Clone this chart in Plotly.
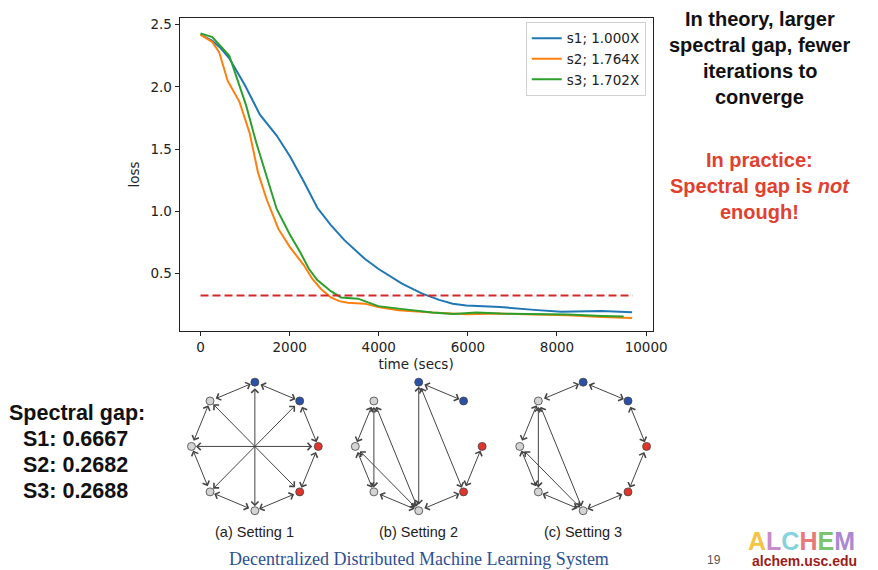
import plotly.graph_objects as go
import math

# ---------------- data ----------------
s1_t = [0, 266, 456, 646, 1003, 1329, 1709, 2013, 2317, 2621, 2925, 3229, 3685, 3988, 4520, 4976, 5356, 5660, 5964, 6724, 7484, 8091, 9003, 9686]
s1_loss = [2.42, 2.37, 2.31, 2.23, 2.01, 1.78, 1.61, 1.44, 1.24, 1.03, 0.89, 0.77, 0.62, 0.54, 0.42, 0.34, 0.29, 0.26, 0.245, 0.233, 0.21, 0.195, 0.20, 0.19]

s2_t = [0, 266, 418, 608, 874, 1102, 1292, 1481, 1747, 2013, 2317, 2507, 2697, 2925, 3115, 3305, 3685, 3988, 4444, 5204, 5964, 6724, 7484, 8243, 9003, 9686]
s2_loss = [2.42, 2.36, 2.28, 2.05, 1.88, 1.63, 1.31, 1.10, 0.86, 0.71, 0.57, 0.46, 0.38, 0.31, 0.28, 0.268, 0.26, 0.233, 0.207, 0.188, 0.175, 0.18, 0.172, 0.167, 0.153, 0.145]

s3_t = [0, 266, 646, 874, 1025, 1253, 1481, 1709, 2013, 2241, 2431, 2621, 2925, 3153, 3533, 3761, 3988, 4444, 4824, 5204, 5660, 6192, 6724, 7484, 8243, 9003, 9496]
s3_loss = [2.43, 2.40, 2.25, 2.01, 1.85, 1.55, 1.29, 1.02, 0.81, 0.67, 0.54, 0.45, 0.36, 0.31, 0.30, 0.27, 0.24, 0.22, 0.204, 0.188, 0.177, 0.188, 0.18, 0.175, 0.172, 0.16, 0.156]

series_names = ["s1; 1.000X", "s2; 1.764X", "s3; 1.702X"]
series_colors = ["#1f77b4", "#ff7f0e", "#2ca02c"]

target_t = [0, 9700]
target_loss = [0.325, 0.325]

x_ticks = [0, 2000, 4000, 6000, 8000, 10000]
x_ticktext = ["0", "2000", "4000", "6000", "8000", "10000"]
y_ticks = [0.5, 1.0, 1.5, 2.0, 2.5]

spectral_gap = {"S1": "0.6667", "S2": "0.2682", "S3": "0.2688"}

# graph topologies (8 nodes on a ring, node 0 at top, clockwise)
node_colors = ["#2b50a8", "#2b50a8", "#e0352c", "#e0352c", "#d4d4d4", "#d4d4d4", "#d4d4d4", "#d4d4d4"]
edges_1 = [(0, 1), (1, 2), (2, 3), (3, 4), (4, 5), (5, 6), (6, 7), (7, 0), (0, 4), (1, 5), (2, 6), (3, 7)]
edges_2 = [(7, 6), (7, 5), (7, 4), (6, 5), (6, 4), (5, 4), (4, 0), (4, 3), (0, 1), (0, 3), (3, 2)]
edges_3 = [(7, 0), (0, 1), (1, 2), (2, 3), (3, 4), (4, 5), (5, 6), (6, 7), (7, 5), (7, 4), (6, 4)]
graph_captions = ["(a) Setting 1", "(b) Setting 2", "(c) Setting 3"]

W, H = 878, 570
def px(x): return x / W
def py(y): return 1 - y / H

fig = go.Figure()

for t, l, n, c in zip([s1_t, s2_t, s3_t], [s1_loss, s2_loss, s3_loss], series_names, series_colors):
    fig.add_trace(go.Scatter(x=t, y=l, mode="lines", name=n, line=dict(color=c, width=2),
                             xaxis="x", yaxis="y"))
fig.add_trace(go.Scatter(x=target_t, y=target_loss, mode="lines", showlegend=False,
                         line=dict(color="#d62728", width=2, dash="8px,4px"), xaxis="x", yaxis="y"))

tickfont = dict(family="DejaVu Sans", size=13.5, color="#222")
layout = dict(
    width=W, height=H, margin=dict(l=0, r=0, t=0, b=0), autosize=False,
    paper_bgcolor="white", plot_bgcolor="white",
    showlegend=True,
    legend=dict(x=px(657), y=py(20), xanchor="right", yanchor="top",
                bgcolor="white", bordercolor="#d0d0d0", borderwidth=1,
                font=dict(family="DejaVu Sans", size=13.5, color="#222"),
                itemwidth=30, tracegroupgap=0),
    xaxis=dict(domain=[px(182.7), px(664)], range=[-470, 10147], tickvals=x_ticks,
               ticktext=x_ticktext,
               ticks="outside", ticklen=4, tickwidth=1, tickcolor="#222",
               showline=True, linecolor="#222", linewidth=1, mirror=True,
               showgrid=False, zeroline=False, tickfont=tickfont,
               title=dict(text="time (secs)", font=tickfont, standoff=5), anchor="y"),
    yaxis=dict(domain=[py(330), py(16)], range=[0.0416, 2.554], tickvals=y_ticks,
               tickformat=".1f",
               ticks="outside", ticklen=4, tickwidth=1, tickcolor="#222",
               showline=True, linecolor="#222", linewidth=1, mirror=True,
               showgrid=False, zeroline=False, tickfont=tickfont,
               title=dict(text="loss", font=tickfont, standoff=7), anchor="x"),
)

# graph sub-axes
centers_x = [259.3, 426.0, 593.3]
center_y = 446.0
unit = 64.5
rng = 1.25
annotations = []
for gi, (edges, cx) in enumerate(zip([edges_1, edges_2, edges_3], centers_x)):
    xa = "xaxis%d" % (gi + 2)
    ya = "yaxis%d" % (gi + 2)
    xr = "x%d" % (gi + 2)
    yr = "y%d" % (gi + 2)
    half = rng * unit
    layout[xa] = dict(domain=[px(cx - half), px(cx + half)], range=[-rng, rng], visible=False,
                      fixedrange=True, anchor=yr)
    layout[ya] = dict(domain=[py(center_y + half), py(center_y - half)], range=[-rng, rng],
                      visible=False, fixedrange=True, anchor=xr)
    nx = [math.sin(k * math.pi / 4) for k in range(8)]
    ny = [math.cos(k * math.pi / 4) for k in range(8)]
    for a, b in edges:
        annotations.append(dict(x=nx[b], y=ny[b], ax=nx[a], ay=ny[a], xref=xr, yref=yr,
                                axref=xr, ayref=yr, text="", showarrow=True,
                                arrowhead=4, startarrowhead=4, arrowside="end+start",
                                arrowsize=1.4, startarrowsize=1.4, arrowwidth=1,
                                arrowcolor="#444", standoff=4.5, startstandoff=4.5))
    fig.add_trace(go.Scatter(x=nx, y=ny, mode="markers", showlegend=False, xaxis=xr, yaxis=yr,
                             marker=dict(size=8, color=node_colors,
                                         line=dict(color="#444", width=0.8))))
    annotations.append(dict(x=px(cx), y=py(532), xref="paper", yref="paper", text=graph_captions[gi],
                            showarrow=False, font=dict(family="Liberation Sans", size=14.5, color="#222"),
                            xanchor="center", yanchor="middle"))

def txt(s, x, y, size=20, color="#111", bold=True, family="Liberation Sans", anchor="center"):
    if bold:
        s = "<b>" + s + "</b>"
    annotations.append(dict(x=px(x), y=py(y), xref="paper", yref="paper", text=s, showarrow=False,
                            font=dict(family=family, size=size, color=color),
                            xanchor=anchor, yanchor="middle"))

red = "#e2402f"
txt("In theory, larger", 773, 17.5)
txt("spectral gap, fewer", 773, 43.5)
txt("iterations to", 773, 69)
txt("converge", 773, 95)
txt("In practice:", 773, 159, color=red)
txt("Spectral gap is <i>not</i>", 773, 185, color=red)
txt("enough!", 773, 211, color=red)

txt("Spectral gap:", 78, 412.5, size=21.5)
for i, (k, v) in enumerate(spectral_gap.items()):
    txt("%s: %s" % (k, v), 77, 438.5 + 26 * i, size=21.5)

txt("Decentralized Distributed Machine Learning System", 426, 559, size=18, color="#2d5192",
    bold=False, family="Liberation Serif")
txt("19", 726, 560, size=12, color="#555", bold=False)
alchem_cols = ["#f4c443", "#c78acb", "#86d2dd", "#e8787a", "#7cc46f", "#a98ad1"]
alchem = "".join("<span style='color:%s'>%s</span>" % (c, ch) for c, ch in zip(alchem_cols, "ALCHEM"))
txt(alchem, 815, 541, size=25)
txt("alchem.usc.edu", 818, 561, size=14, color="#9b1c1c")

layout["annotations"] = annotations
fig.update_layout(**layout)
fig.write_html("out.html")
